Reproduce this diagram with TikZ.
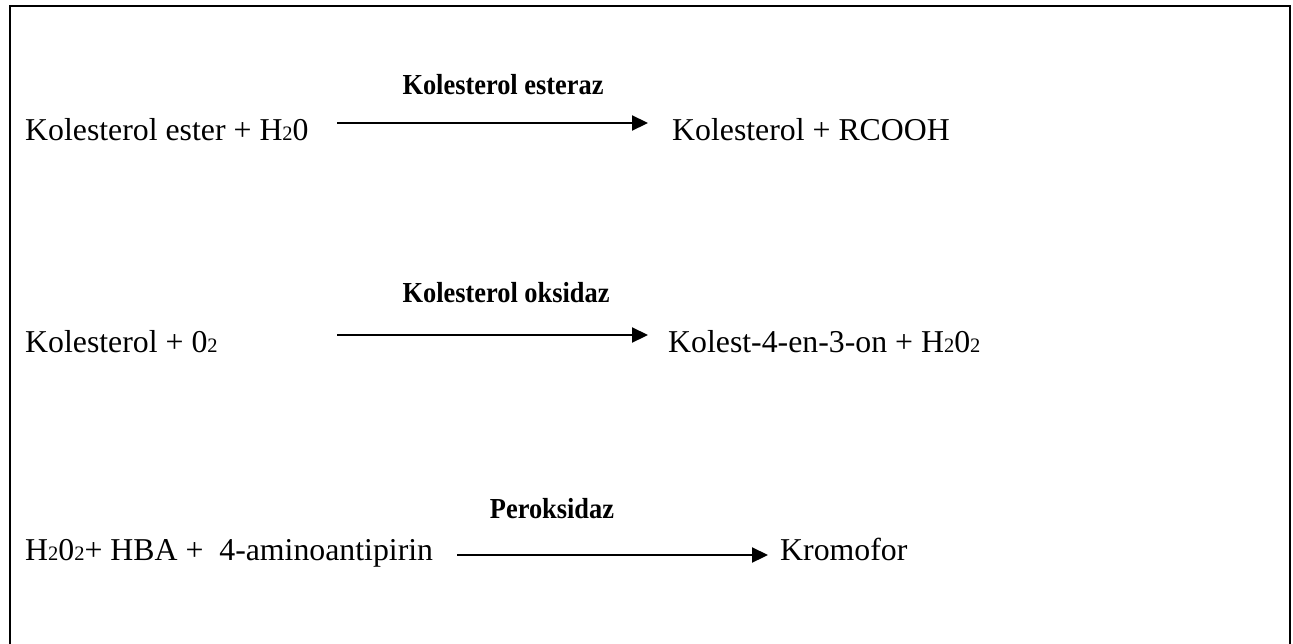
\documentclass[tikz,border=0pt]{standalone}
\usepackage{fontspec}
\setmainfont{Liberation Serif}
\newfontfamily\enzfont[FakeStretch=0.91]{Liberation Serif}
\usetikzlibrary{arrows.meta}
\newcommand{\smallsub}[1]{{\fontsize{20.5pt}{20.5pt}\selectfont #1}}
\tikzset{
  chem/.style={anchor=base west, inner sep=0pt, font=\fontsize{31.8pt}{34pt}\selectfont},
  enz/.style={anchor=base, inner sep=0pt, font=\enzfont\fontsize{29pt}{32pt}\selectfont\bfseries},
  rxn/.style={line width=2.2pt, -{Triangle[length=16pt,width=15pt]}},
  frame/.style={line width=2.5pt}
}
\begin{document}
\begin{tikzpicture}[x=1pt,y=-1pt]
\useasboundingbox (0,0) rectangle (1293,643);
\draw[frame] (10,645) -- (10,6) -- (1290,6) -- (1290,645);
% row 1
\node[chem] (r1) at (25,140) {Kolesterol ester + H\smallsub{2}0};
\node[chem] (p1) at (672,140) {Kolesterol + RCOOH};
\coordinate (a1s) at (337,123);
\coordinate (a1e) at (648,123);
\draw[rxn] (a1s) -- (a1e);
\node[enz] (e1) at (503,94) {Kolesterol esteraz};
% row 2
\node[chem] (r2) at (25,352) {Kolesterol + 0\smallsub{2}};
\node[chem] (p2) at (668,352) {Kolest-4-en-3-on + H\smallsub{2}0\smallsub{2}};
\coordinate (a2s) at (337,335);
\coordinate (a2e) at (648,335);
\draw[rxn] (a2s) -- (a2e);
\node[enz] (e2) at (506,302) {Kolesterol oksidaz};
% row 3
\node[chem] (r3) at (25,560) {H\smallsub{2}0\smallsub{2}+ HBA +\ \ 4-aminoantipirin};
\node[chem] (p3) at (780,560) {Kromofor};
\coordinate (a3s) at (457,555);
\coordinate (a3e) at (768,555);
\draw[rxn] (a3s) -- (a3e);
\node[enz] (e3) at (552,518) {Peroksidaz};
\end{tikzpicture}
\end{document}
